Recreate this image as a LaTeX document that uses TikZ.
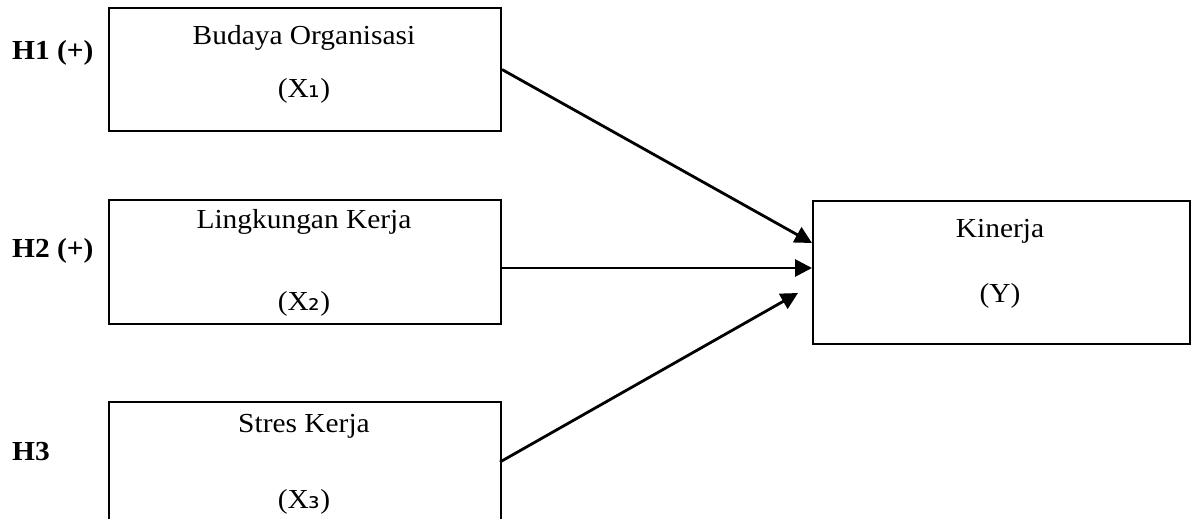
\documentclass[tikz,border=0pt]{standalone}
\usepackage{fontspec}
\setmainfont{Liberation Serif}[FakeStretch=1.07]
\newfontfamily\subf[Scale=1.05]{DejaVu Sans}
\usetikzlibrary{arrows.meta}
\tikzset{
  varbox/.style={draw=black, line width=2pt, inner sep=0pt, anchor=north west},
  lbl/.style={anchor=base, inner sep=0pt, font=\fontsize{27.5}{31}\selectfont},
  hlbl/.style={anchor=base west, inner sep=0pt, font=\fontsize{27.5}{31}\selectfont\bfseries},
  arr/.style={line width=2.8pt, -{Triangle[length=17pt,width=17pt]}}
}
\newcommand{\sub}[1]{{\subf #1}}
\begin{document}
\begin{tikzpicture}[x=1pt,y=-1pt]
\useasboundingbox (0,0) rectangle (1195,519);
\clip (0,0) rectangle (1195,519);
\fill[white] (0,0) rectangle (1195,519);
% boxes
\node[varbox, minimum width=392pt, minimum height=122pt] (b1) at (108,7.5) {};
\node[varbox, minimum width=392pt, minimum height=124pt] (b2) at (108,199) {};
\node[varbox, minimum width=392pt, minimum height=140pt] (b3) at (108,401) {};
\node[varbox, minimum width=377pt, minimum height=143pt] (kin) at (812,200) {};
% texts
\node[lbl] (t1a) at (304,44.5) {Budaya Organisasi};
\node[lbl] (t1b) at (304,98) {(X\sub{₁})};
\node[lbl] (t2a) at (304,228.5) {Lingkungan Kerja};
\node[lbl] (t2b) at (304,310) {(X\sub{₂})};
\node[lbl] (t3a) at (304,432.5) {Stres Kerja};
\node[lbl] (t3b) at (304,508) {(X\sub{₃})};
\node[lbl] (tka) at (1000,237.5) {Kinerja};
\node[lbl] (tkb) at (1000,302) {(Y)};
% hypothesis labels
\node[hlbl] (h1) at (12,60) {H1 (+)};
\node[hlbl] (h2) at (12,257) {H2 (+)};
\node[hlbl] (h3) at (12,460) {H3};
% connectors
\coordinate (k1) at (812,243);
\coordinate (k2) at (812,268);
\coordinate (k3) at (798,293);
\coordinate (s2) at (b2.east |- k2);
\coordinate (s3) at (500,462);
\draw[arr] (b1.east) -- (k1);
\draw[arr] (s2) -- (k2);
\draw[arr] (s3) -- (k3);
\end{tikzpicture}
\end{document}
